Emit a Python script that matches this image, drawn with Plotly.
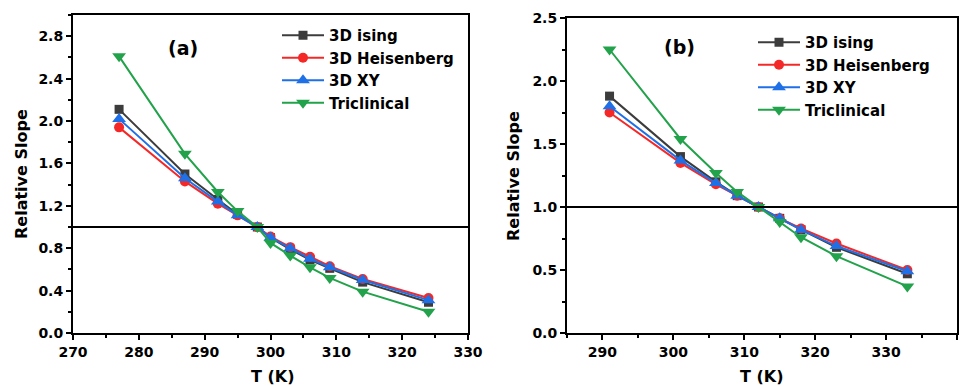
import plotly.graph_objects as go

# ---- data: panel (a)
T_a = [277, 287, 292, 295, 298, 300, 303, 306, 309, 314, 324]
ising_a = [2.11, 1.50, 1.26, 1.12, 1.00, 0.90, 0.79, 0.69, 0.61, 0.48, 0.29]
heis_a = [1.94, 1.43, 1.22, 1.11, 1.00, 0.91, 0.81, 0.72, 0.63, 0.51, 0.33]
xy_a = [2.02, 1.46, 1.24, 1.11, 1.00, 0.90, 0.80, 0.70, 0.62, 0.50, 0.31]
tric_a = [2.61, 1.69, 1.33, 1.15, 1.00, 0.85, 0.73, 0.62, 0.52, 0.39, 0.20]

# ---- data: panel (b)
T_b = [291, 301, 306, 309, 312, 315, 318, 323, 333]
ising_b = [1.88, 1.40, 1.20, 1.09, 1.00, 0.91, 0.82, 0.68, 0.47]
heis_b = [1.75, 1.35, 1.18, 1.09, 1.00, 0.91, 0.83, 0.71, 0.50]
xy_b = [1.80, 1.37, 1.19, 1.09, 1.00, 0.91, 0.82, 0.69, 0.49]
tric_b = [2.25, 1.54, 1.27, 1.12, 1.00, 0.88, 0.76, 0.61, 0.37]

names = ["3D ising", "3D Heisenberg", "3D XY", "Triclinical"]
colors = ["#3c3c3c", "#f52828", "#1f6fe6", "#22a24a"]
symbols = ["square", "circle", "triangle-up", "triangle-down"]
msizes = [9, 10, 12, 12]

W, H = 969, 386
FONT = "DejaVu Sans"

fig = go.Figure()

series_a = [ising_a, heis_a, xy_a, tric_a]
series_b = [ising_b, heis_b, xy_b, tric_b]
for i in range(4):
    fig.add_trace(go.Scatter(
        x=T_a, y=series_a[i], name=names[i], mode="lines+markers",
        line=dict(color=colors[i], width=2),
        marker=dict(color=colors[i], symbol=symbols[i], size=msizes[i]),
        xaxis="x", yaxis="y", legend="legend"))
for i in range(4):
    fig.add_trace(go.Scatter(
        x=T_b, y=series_b[i], name=names[i], mode="lines+markers",
        line=dict(color=colors[i], width=2),
        marker=dict(color=colors[i], symbol=symbols[i], size=msizes[i]),
        xaxis="x2", yaxis="y2", legend="legend2"))

tickfont = dict(family=FONT, size=14, color="black", weight="bold")
axcommon = dict(showline=True, linewidth=2, linecolor="black", mirror=True,
                ticks="outside", ticklen=5, tickwidth=2, tickcolor="black",
                showgrid=False, zeroline=False, tickfont=tickfont,
                automargin=False)

legfont = dict(family=FONT, size=15, color="black", weight="bold")
fig.update_layout(
    width=W, height=H, margin=dict(l=0, r=0, t=0, b=0),
    paper_bgcolor="white", plot_bgcolor="white",
    xaxis=dict(domain=[73/W, 468/W], range=[270, 330], dtick=10,
               minor=dict(ticks="outside", ticklen=3, tickwidth=2, dtick=5, tickcolor="black"),
               anchor="y", **axcommon),
    yaxis=dict(domain=[(H-333)/H, (H-15)/H], range=[0, 3.0], dtick=0.4,
               tickformat=".1f",
               minor=dict(ticks="outside", ticklen=3, tickwidth=2, dtick=0.2, tickcolor="black"),
               anchor="x", **axcommon),
    xaxis2=dict(domain=[567/W, 957/W], range=[285, 340], dtick=10,
                minor=dict(ticks="outside", ticklen=3, tickwidth=2, dtick=5, tickcolor="black"),
                anchor="y2", **axcommon),
    yaxis2=dict(domain=[(H-333)/H, (H-18)/H], range=[0, 2.5], dtick=0.5,
                tickformat=".1f",
                minor=dict(ticks="outside", ticklen=3, tickwidth=2, dtick=0.25, tickcolor="black"),
                anchor="x2", **axcommon),
    legend=dict(x=277/W, xanchor="left", y=(H-19)/H, yanchor="top",
                bgcolor="rgba(0,0,0,0)", itemwidth=42, font=legfont,
                tracegroupgap=0),
    legend2=dict(x=753/W, xanchor="left", y=(H-26)/H, yanchor="top",
                 bgcolor="rgba(0,0,0,0)", itemwidth=42, font=legfont,
                 tracegroupgap=0),
    showlegend=True,
)

# reference lines at relative slope = 1
fig.add_shape(type="line", xref="x domain", yref="y", x0=0, x1=1, y0=1, y1=1,
              line=dict(color="black", width=2))
fig.add_shape(type="line", xref="x2 domain", yref="y2", x0=0, x1=1, y0=1, y1=1,
              line=dict(color="black", width=2))

titlefont = dict(family=FONT, size=16, color="black", weight="bold")
ann = dict(xref="paper", yref="paper", showarrow=False, xanchor="center", yanchor="middle")
fig.add_annotation(text="Relative Slope", x=21/W, y=(H-174)/H, textangle=-90, font=titlefont, **ann)
fig.add_annotation(text="Relative Slope", x=514/W, y=(H-176)/H, textangle=-90, font=titlefont, **ann)
fig.add_annotation(text="T (K)", x=273/W, y=(H-376)/H, font=titlefont, **ann)
fig.add_annotation(text="T (K)", x=762/W, y=(H-376)/H, font=titlefont, **ann)
panelfont = dict(family=FONT, size=19, color="black", weight="bold")
fig.add_annotation(text="(a)", x=183/W, y=(H-48)/H, font=panelfont, **ann)
fig.add_annotation(text="(b)", x=679/W, y=(H-47)/H, font=panelfont, **ann)

fig.write_html("out.html")
